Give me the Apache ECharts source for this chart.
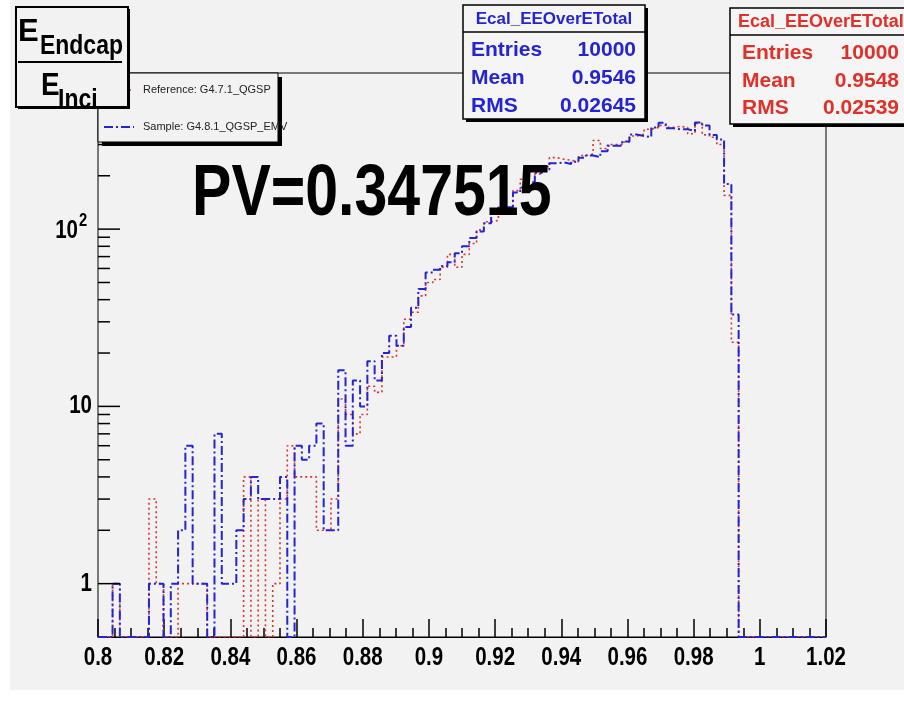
<!DOCTYPE html>
<html>
<head>
<meta charset="utf-8">
<script src="https://cdn.jsdelivr.net/npm/echarts@6/dist/echarts.min.js"></script>
<style>
  html, body { margin: 0; padding: 0; background: #ffffff; }
  #chart { width: 904px; height: 704px; }
</style>
</head>
<body>
<div id="chart"></div>
<script>
// Ecal_EEOverETotal: fraction of energy deposited in the endcap, 100 bins from 0.8 to 1.02
const binStart = 0.8;
const binWidth = 0.0022;

// Reference: G4.7.1_QGSP (counts per bin)
const referenceCounts = [
  0, 0, 1, 0, 0, 0, 0, 3, 1, 0,
  0, 1, 1, 1, 1, 0, 0, 0, 0, 0,
  4, 0, 3, 0, 1, 3, 6, 4, 4, 4,
  2, 2, 3, 11, 9, 7, 9, 13, 12, 19,
  19, 22, 31, 34, 42, 50, 52, 61, 72, 61,
  72, 83, 99, 110, 112, 133, 125, 165, 191, 184,
  205, 225, 253, 248, 245, 240, 260, 265, 316, 285,
  300, 300, 310, 335, 343, 366, 375, 385, 375, 380,
  375, 345, 395, 340, 330, 300, 155, 23, 0, 0,
  0, 0, 0, 0, 0, 0, 0, 0, 0, 0
];

// Sample: G4.8.1_QGSP_EMV (counts per bin)
const sampleCounts = [
  0, 0, 1, 0, 0, 0, 0, 1, 1, 0,
  1, 2, 6, 1, 1, 0, 7, 1, 1, 2,
  3, 4, 3, 3, 3, 4, 0, 6, 5, 6,
  8, 2, 2, 16, 6, 14, 10, 18, 14, 20,
  25, 22, 28, 36, 46, 57, 59, 62, 65, 73,
  80, 89, 97, 108, 127, 133, 133, 161, 172, 184,
  208, 217, 235, 238, 233, 240, 253, 260, 255, 275,
  295, 295, 312, 342, 335, 330, 375, 398, 371, 366,
  366, 358, 400, 384, 340, 320, 180, 33, 0, 0,
  0, 0, 0, 0, 0, 0, 0, 0, 0, 0
];

// Axis ranges and tick labels
const xMin = 0.8, xMax = 1.02, xStep = 0.02;
const xTickValues = [0.8, 0.82, 0.84, 0.86, 0.88, 0.9, 0.92, 0.94, 0.96, 0.98, 1, 1.02];
const xTickLabels = ['0.8', '0.82', '0.84', '0.86', '0.88', '0.9', '0.92', '0.94', '0.96', '0.98', '1', '1.02'];
const yMin = 0.5, yMax = 760;
const yMajorTicks = [1, 10, 100];
const yMajorLabels = [['1', ''], ['10', ''], ['10', '2']];
const yMinorTicks = [2, 3, 4, 5, 6, 7, 8, 9, 20, 30, 40, 50, 60, 70, 80, 90, 200, 300, 400, 500, 600, 700];

// Statistics boxes
const sampleStats = { title: 'Ecal_EEOverETotal', entries: '10000', mean: '0.9546', rms: '0.02645' };
const referenceStats = { title: 'Ecal_EEOverETotal', entries: '10000', mean: '0.9548', rms: '0.02539' };
const pvText = 'PV=0.347515';

const SANS = "'Liberation Sans', Arial, sans-serif";
const SQUEEZE = 0.82;   // condensed lettering for axis labels and titles
const RED = '#e0302a';
const BLUE = '#2424d2';

// Build a step outline from bin counts; empty bins sit on the bottom of the log frame
function stepData(counts) {
  const pts = counts.map((c, i) => [binStart + i * binWidth, c > 0 ? c : yMin]);
  const last = counts[counts.length - 1];
  pts.push([binStart + counts.length * binWidth, last > 0 ? last : yMin]);
  return pts;
}

const yTickData = yMajorTicks.map((v, i) => [xMin, v, 1, i]).concat(yMinorTicks.map(v => [xMin, v, 0, -1]));
const xLabelData = xTickValues.map((v, i) => [v, yMin, i]);

// put a graphic element (and all its children) on a given layer
function onLayer(el, z) {
  el.z = z;
  if (el.children) el.children.forEach(c => onLayer(c, z));
  return el;
}

function statsBox(x, y, w, h, sepY, color, s, labelX, valueX, rowYs, titleX, titleAlign, titleSize) {
  const font = 'bold 21px ' + SANS;
  const els = [
    { type: 'rect', shape: { x: x + 3, y: y + 3, width: w, height: h }, style: { fill: '#000' } },
    { type: 'rect', shape: { x: x, y: y, width: w, height: h }, style: { fill: '#f5f5f5', stroke: '#000', lineWidth: 1.5 } },
    { type: 'line', shape: { x1: x, y1: sepY, x2: x + w, y2: sepY }, style: { stroke: '#000', lineWidth: 1.5 } },
    { type: 'text', x: titleX, y: (y + sepY) / 2 + 1, style: { text: s.title, font: 'bold ' + titleSize + 'px ' + SANS, fill: color, align: titleAlign, verticalAlign: 'middle' } }
  ];
  const labels = ['Entries', 'Mean', 'RMS'];
  const values = [s.entries, s.mean, s.rms];
  labels.forEach((lab, i) => {
    els.push({ type: 'text', x: labelX, y: rowYs[i], style: { text: lab, font: font, fill: color, align: 'left', verticalAlign: 'middle' } });
    els.push({ type: 'text', x: valueX, y: rowYs[i], style: { text: values[i], font: font, fill: color, align: 'right', verticalAlign: 'middle' } });
  });
  return onLayer({ type: 'group', children: els }, 20);
}

function squeezedText(x, y, text, font, align, vAlign, sx) {
  return { type: 'text', x: x, y: y, scaleX: sx || SQUEEZE, style: { text: text, font: font, fill: '#000', align: align, verticalAlign: vAlign } };
}

const chart = echarts.init(document.getElementById('chart'), null, { renderer: 'canvas' });

chart.setOption({
  animation: false,
  backgroundColor: '#f2f2f2',
  grid: {
    left: 98, right: 78, top: 73, bottom: 67,
    show: true, borderColor: '#000', borderWidth: 1, backgroundColor: 'transparent'
  },
  xAxis: {
    type: 'value', min: xMin, max: xMax, interval: xStep,
    axisLine: { show: true, lineStyle: { color: '#000', width: 1 } },
    axisTick: { show: true, inside: true, length: 18, lineStyle: { color: '#000', width: 1.5 } },
    minorTick: { show: true, splitNumber: 4, length: 9, lineStyle: { color: '#000', width: 1.5 } },
    splitLine: { show: false },
    axisLabel: { show: false }
  },
  yAxis: {
    type: 'log', logBase: 10, min: yMin, max: yMax,
    axisLine: { show: false }, axisTick: { show: false },
    splitLine: { show: false }, axisLabel: { show: false }
  },
  series: [
    {
      name: 'Reference: G4.7.1_QGSP', type: 'line', step: 'end', symbol: 'none',
      data: stepData(referenceCounts), z: 3,
      lineStyle: { color: RED, width: 1.6, type: [2, 3] }
    },
    {
      name: 'Sample: G4.8.1_QGSP_EMV', type: 'line', step: 'end', symbol: 'none',
      data: stepData(sampleCounts), z: 4,
      lineStyle: { color: BLUE, width: 2, type: [9, 3, 2, 3] }
    },
    {
      // log-axis ticks and decade labels
      type: 'custom', coordinateSystem: 'cartesian2d', silent: true, z: 5,
      data: yTickData,
      renderItem: function (params, api) {
        const p = api.coord([api.value(0), api.value(1)]);
        const major = api.value(2) === 1;
        const children = [{
          type: 'line',
          shape: { x1: p[0], y1: p[1], x2: p[0] + (major ? 22 : 12), y2: p[1] },
          style: { stroke: '#000', lineWidth: 1.5 }
        }];
        if (major) {
          const lab = yMajorLabels[api.value(3)];
          const font = 'bold 25px ' + SANS;
          if (!lab[1]) {
            children.push(squeezedText(p[0] - 6, p[1], lab[0], font, 'right', 'middle'));
          } else {
            children.push(squeezedText(p[0] - 20, p[1] + 2, lab[0], font, 'right', 'middle'));
            children.push(squeezedText(p[0] - 19, p[1] - 8, lab[1], 'bold 18px ' + SANS, 'left', 'middle'));
          }
        }
        return { type: 'group', children: children };
      }
    },
    {
      // x-axis tick labels
      type: 'custom', coordinateSystem: 'cartesian2d', silent: true, z: 5,
      data: xLabelData,
      renderItem: function (params, api) {
        const p = api.coord([api.value(0), api.value(1)]);
        return squeezedText(p[0], p[1] + 21, xTickLabels[api.value(2)], 'bold 25px ' + SANS, 'center', 'middle');
      }
    }
  ],
  graphic: [
    // white margins around the pad
    onLayer({ type: 'rect', shape: { x: 0, y: 0, width: 10, height: 704 }, style: { fill: '#ffffff' } }, 1),
    onLayer({ type: 'rect', shape: { x: 0, y: 690, width: 904, height: 14 }, style: { fill: '#ffffff' } }, 1),
    // legend
    onLayer({
      type: 'group', children: [
        { type: 'rect', shape: { x: 102, y: 77, width: 180, height: 69 }, style: { fill: '#000' } },
        { type: 'rect', shape: { x: 98, y: 73, width: 180, height: 69 }, style: { fill: '#f2f2f2', stroke: '#000', lineWidth: 1 } },
        { type: 'line', shape: { x1: 104, y1: 90, x2: 134, y2: 90 }, style: { stroke: RED, lineWidth: 1.6, lineDash: [2, 3] } },
        { type: 'text', x: 143, y: 90, style: { text: 'Reference: G4.7.1_QGSP', font: '11px ' + SANS, fill: '#222', align: 'left', verticalAlign: 'middle' } },
        { type: 'line', shape: { x1: 104, y1: 127, x2: 134, y2: 127 }, style: { stroke: BLUE, lineWidth: 2, lineDash: [9, 3, 2, 3] } },
        { type: 'text', x: 143, y: 127, style: { text: 'Sample: G4.8.1_QGSP_EMV', font: '11px ' + SANS, fill: '#222', align: 'left', verticalAlign: 'middle' } }
      ]
    }, 20),
    // axis title box
    onLayer({
      type: 'group', children: [
        { type: 'rect', shape: { x: 18, y: 9, width: 112, height: 100 }, style: { fill: '#000' } },
        { type: 'rect', shape: { x: 16, y: 7, width: 112, height: 100 }, style: { fill: '#f2f2f2', stroke: '#000', lineWidth: 2 } },
        squeezedText(18, 48, 'E', 'bold 31px ' + SANS, 'left', 'bottom', 1),
        squeezedText(40, 60, 'Endcap', 'bold 28px ' + SANS, 'left', 'bottom'),
        { type: 'line', shape: { x1: 18, y1: 62, x2: 122, y2: 62 }, style: { stroke: '#000', lineWidth: 2 } },
        squeezedText(41, 102, 'E', 'bold 31px ' + SANS, 'left', 'bottom', 0.9),
        squeezedText(58, 114, 'Inci', 'bold 28px ' + SANS, 'left', 'bottom')
      ]
    }, 30),
    statsBox(463, 5, 182, 114, 32, BLUE, sampleStats, 471, 636, [50, 78, 106], 554, 'center', 17),
    statsBox(730, 8, 190, 116, 35, RED, referenceStats, 742, 899, [53, 81, 108], 738, 'left', 18),
    // comparison p-value
    onLayer(squeezedText(192, 195, pvText, 'bold 72px ' + SANS, 'left', 'middle'), 25)
  ]
});
</script>
</body>
</html>
